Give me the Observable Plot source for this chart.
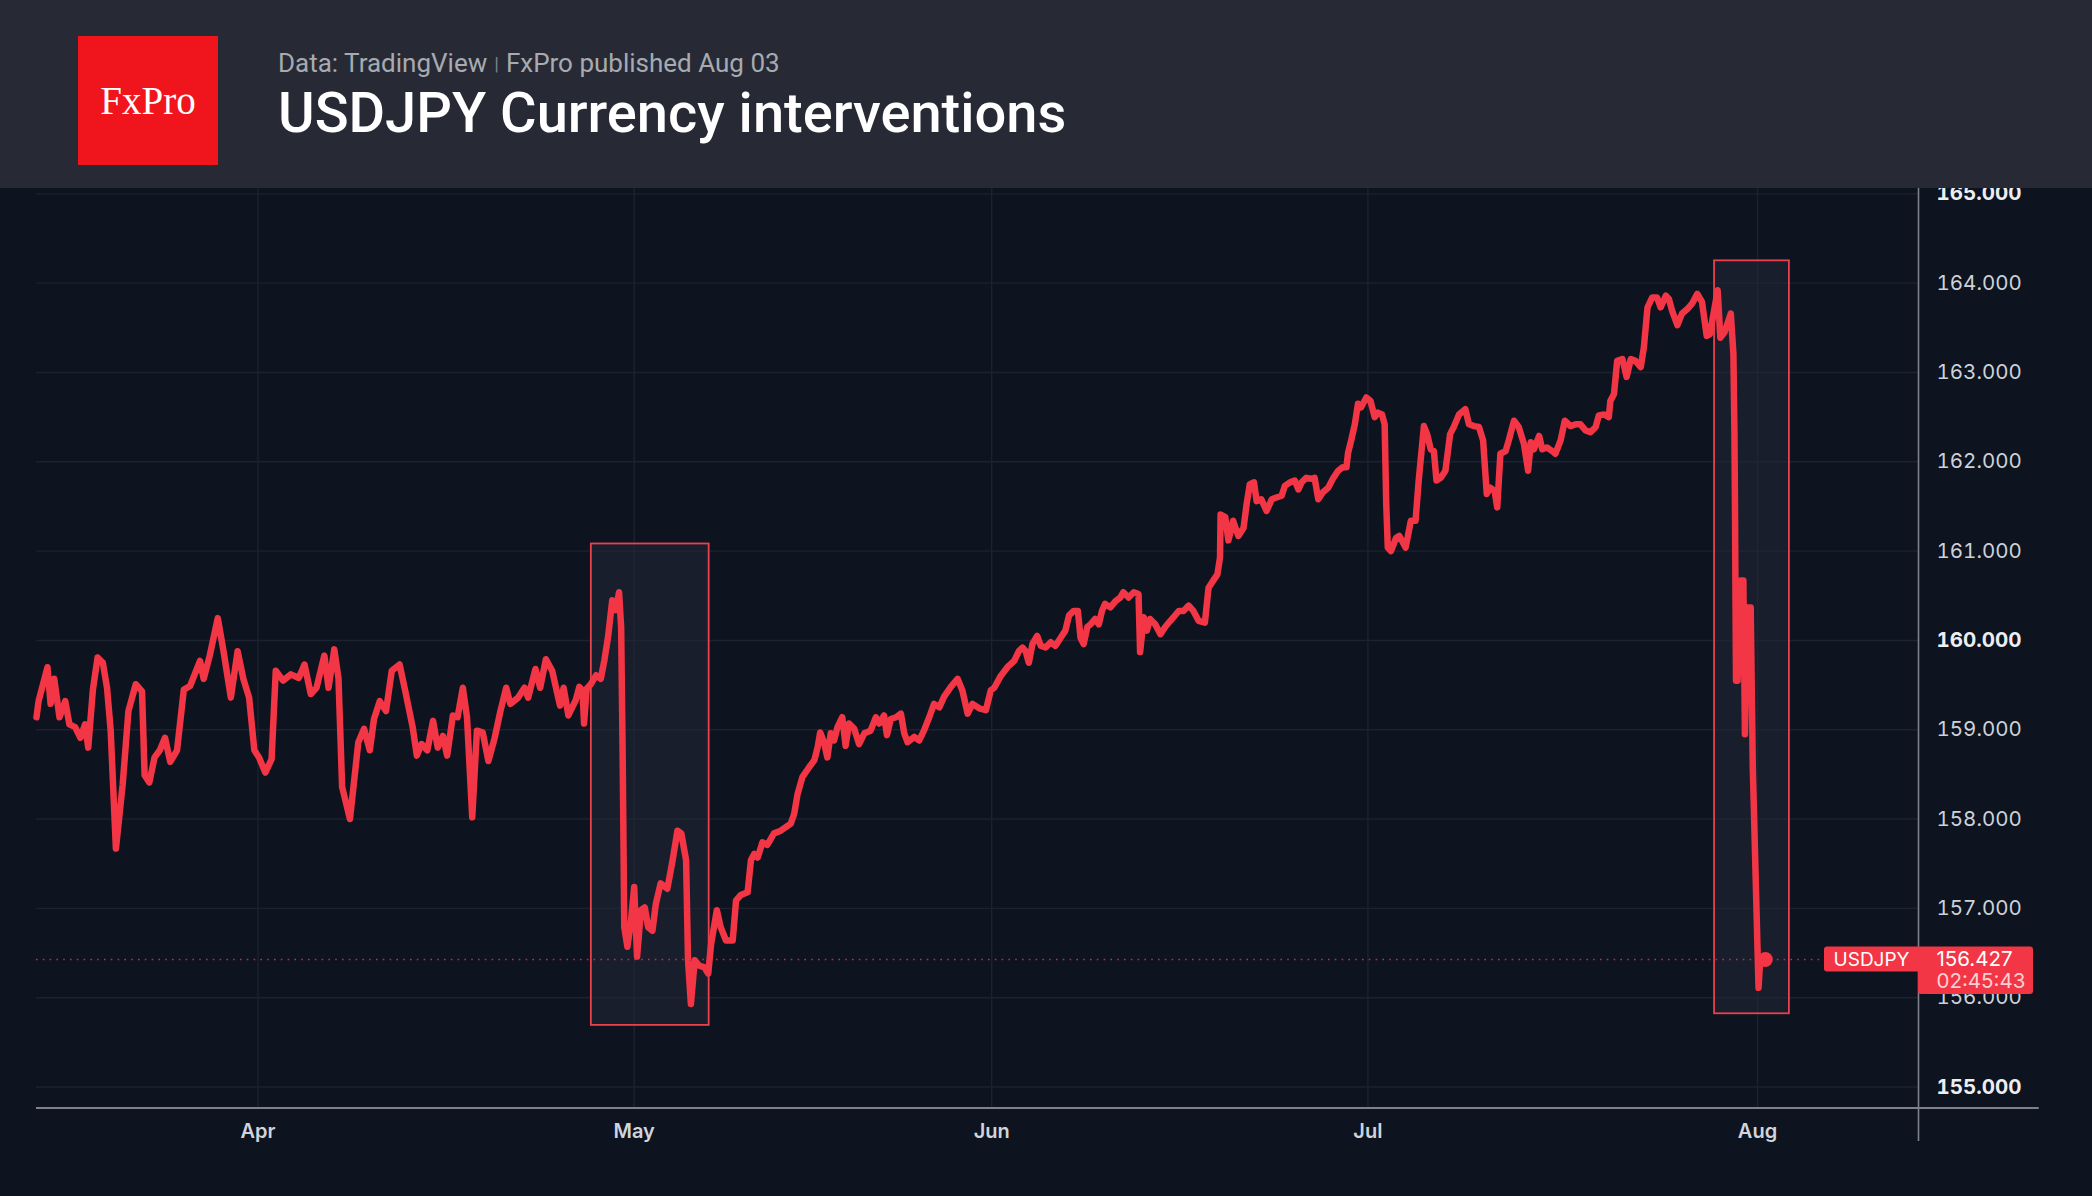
<!DOCTYPE html>
<html>
<head>
<meta charset="utf-8">
<script src="https://cdn.jsdelivr.net/npm/d3@7"></script>
<script src="https://cdn.jsdelivr.net/npm/@observablehq/plot@0.6"></script>
<style>
  html, body { margin: 0; padding: 0; background: #0d131f; width: 2092px; height: 1196px; overflow: hidden; }
  #header { position: absolute; left: 0; top: 0; width: 2092px; height: 188px; background: #272a34; z-index: 2; }
  #logo { position: absolute; left: 78px; top: 36px; width: 140px; height: 129px; background: #f0151d;
          display: flex; align-items: center; justify-content: center; color: #fff;
          font-family: "Liberation Serif", "DejaVu Serif", serif; font-size: 39px; }
  #sub { position: absolute; left: 278px; top: 50px; font-family: Roboto, sans-serif; font-size: 26px; line-height: 1;
         color: #a7aab1; white-space: nowrap; }
  #sub .sep { color: #7d818a; font-size: 19px; position: relative; top: -2px; margin: 0 7px; }
  #title { position: absolute; left: 278px; top: 85px; font-family: Roboto, sans-serif; font-weight: 500; font-size: 56px;
           line-height: 1; color: #ffffff; white-space: nowrap; }
  #chart { position: absolute; left: 0; top: 188px; }
</style>
</head>
<body>
<div id="header">
  <div id="logo">FxPro</div>
  <div id="sub">Data: TradingView<span class="sep">|</span>FxPro published Aug 03</div>
  <div id="title">USDJPY Currency interventions</div>
</div>
<div id="chart"></div>
<script>
// ---- data (USDJPY, 2024) ----
const times = [
"03-14 08","03-14 12","03-15 05","03-15 11","03-15 18","03-16 04","03-16 15","03-16 23","03-17 10","03-17 20",
"03-18 05","03-18 11","03-18 20","03-19 05","03-19 15","03-19 23","03-20 06","03-20 16","03-21 05","03-21 16",
"03-22 06","03-22 18","03-22 23","03-23 08","03-23 18","03-24 04","03-24 14","03-25 00","03-25 13","03-26 02",
"03-26 14","03-27 09","03-27 16","03-28 04","03-28 19","03-29 06","03-29 20","03-30 09","03-30 20","03-31 07",
"03-31 17","04-01 02","04-01 14","04-02 02","04-02 10","04-03 00","04-03 15","04-04 06","04-04 17","04-05 05",
"04-05 16","04-06 07","04-06 15","04-07 02","04-07 10","04-07 17","04-08 08","04-09 00","04-09 11","04-09 22",
"04-10 06","04-10 17","04-11 05","04-11 16","04-12 07","04-12 18","04-13 08","04-13 16","04-14 01","04-14 12",
"04-14 23","04-15 08","04-15 18","04-16 02","04-16 13","04-16 22","04-17 08","04-17 16","04-18 02","04-18 11",
"04-18 22","04-19 09","04-19 21","04-20 08","04-20 19","04-21 03","04-21 18","04-22 06","04-22 13","04-23 03",
"04-23 12","04-23 23","04-24 11","04-25 02","04-25 09","04-25 18",
"04-26 08","04-26 15","04-26 21","04-27 00","04-27 05","04-27 13","04-27 23","04-28 08","04-28 15","04-28 22",
"04-29 06","04-29 13","04-29 19","04-29 23","04-30 02","04-30 05","04-30 11","04-30 18","05-01 00","05-01 06",
"05-01 14","05-01 22","05-02 05","05-02 14","05-02 21","05-03 07","05-03 21","05-04 08","05-04 18","05-05 02",
"05-05 12","05-05 16","05-05 22","05-06 06","05-06 15","05-07 02","05-07 10","05-07 16","05-08 04","05-08 12",
"05-08 23","05-09 13","05-09 20","05-10 06","05-10 20","05-11 03","05-11 10","05-11 17","05-12 03","05-12 13",
"05-13 03","05-13 17","05-14 14","05-14 21","05-15 04","05-15 14","05-16 04","05-16 15","05-16 22","05-17 03",
"05-17 11","05-17 18","05-18 01","05-18 08","05-18 15","05-19 01","05-19 08","05-19 15","05-20 02","05-20 12",
"05-20 23","05-21 12","05-21 23","05-22 06","05-22 16","05-22 22","05-23 06","05-23 17","05-24 03","05-24 10",
"05-24 17","05-25 07","05-25 17","05-26 03","05-26 14","05-27 00","05-27 11","05-27 21","05-28 11","05-29 01",
"05-29 11","05-29 22","05-30 08","05-30 22","05-31 12","05-31 22",
"06-01 05","06-01 17","06-02 06","06-02 19","06-03 04","06-03 11","06-03 17","06-03 23","06-04 06","06-04 15",
"06-04 22","06-05 07","06-05 17","06-06 02","06-06 12","06-06 21","06-07 04","06-07 13","06-07 21","06-08 02",
"06-08 08","06-08 15","06-08 21","06-09 06","06-09 13","06-09 19","06-10 01","06-10 11","06-10 21","06-11 06",
"06-11 12","06-11 22","06-12 08","06-12 17","06-12 20","06-13 03","06-13 09","06-13 15","06-14 01","06-14 11",
"06-14 20","06-15 06","06-15 12","06-15 22","06-16 07","06-16 17","06-17 02","06-17 12","06-18 00","06-18 07",
"06-18 16","06-19 00","06-19 05","06-19 06","06-19 15","06-19 21","06-20 06","06-20 16","06-21 02","06-21 08",
"06-21 14","06-21 22","06-22 03","06-22 12","06-22 22","06-23 08","06-23 17","06-24 03","06-24 09","06-24 19",
"06-25 04","06-25 11","06-25 17","06-26 02","06-26 12","06-26 18","06-27 01","06-27 10","06-27 20","06-28 05",
"06-28 15","06-29 00","06-29 07","06-29 10","06-29 16","06-29 23","06-30 05","06-30 11","06-30 21",
"07-01 05","07-01 13","07-01 19","07-02 03","07-02 08","07-02 11","07-02 14","07-02 20","07-03 06","07-03 12",
"07-04 00","07-04 10","07-04 19","07-05 01","07-05 11","07-05 17","07-06 00","07-06 06","07-06 11","07-06 19",
"07-07 04","07-07 13","07-07 20","07-08 06","07-08 18","07-09 01","07-09 11","07-09 20","07-10 04","07-10 11",
"07-10 18","07-11 02","07-11 07","07-11 13","07-11 23","07-12 05","07-12 15","07-13 00","07-13 10","07-13 18",
"07-13 23","07-14 05","07-14 15","07-14 21","07-15 06","07-15 16","07-15 22","07-16 08","07-16 16","07-17 03",
"07-17 13","07-17 22","07-18 08","07-18 17","07-19 03","07-19 09","07-19 19","07-20 04","07-20 07","07-20 14",
"07-20 20","07-21 06","07-21 14","07-21 22","07-22 07","07-22 17","07-22 23","07-23 06","07-23 15","07-24 00",
"07-24 07","07-24 17","07-24 23","07-25 05","07-25 15","07-26 00","07-26 10","07-26 19","07-27 05","07-27 14",
"07-27 23","07-28 05","07-28 13","07-28 20","07-29 01","07-29 09","07-29 21","07-30 02","07-30 04","07-30 05",
"07-30 06","07-30 07","07-30 10","07-30 16","07-30 21","07-31 00","07-31 04","07-31 11","07-31 15","08-01 02",
"08-01 05","08-01 15"
];
const prices = [
159.14,159.32,159.70,159.29,159.57,159.14,159.32,159.06,159.03,158.91,
159.06,158.80,159.45,159.81,159.75,159.47,158.99,157.67,158.39,159.21,
159.51,159.43,158.49,158.41,158.69,158.77,158.91,158.64,158.77,159.45,
159.49,159.77,159.57,159.84,160.25,159.88,159.36,159.88,159.57,159.36,
158.77,158.69,158.52,158.67,159.66,159.55,159.62,159.58,159.73,159.40,
159.47,159.83,159.47,159.90,159.58,158.36,158.00,158.86,159.01,158.77,
159.12,159.32,159.21,159.66,159.73,159.43,159.03,158.71,158.84,158.77,
159.10,158.80,158.93,158.71,159.16,159.14,159.47,159.14,158.02,158.99,
158.97,158.65,158.91,159.21,159.47,159.29,159.36,159.47,159.36,159.68,
159.47,159.79,159.66,159.27,159.47,159.16,
159.33,159.48,159.44,159.07,159.46,159.51,159.61,159.57,159.78,160.04,
160.45,160.34,160.54,160.15,158.66,156.79,156.57,156.87,157.24,156.46,
156.98,157.01,156.79,156.75,157.05,157.28,157.22,157.54,157.87,157.84,
157.54,156.42,155.93,156.42,156.36,156.34,156.27,156.60,156.98,156.79,
156.64,156.64,157.09,157.15,157.18,157.54,157.61,157.57,157.74,157.71,
157.84,157.87,157.95,158.06,158.28,158.47,158.58,158.66,158.81,158.97,
158.86,158.69,158.96,158.88,159.03,159.14,158.82,159.07,159.01,158.84,
158.96,158.99,159.14,159.07,159.16,158.94,159.12,159.14,159.18,158.96,
158.86,158.92,158.88,158.99,159.14,159.29,159.25,159.37,159.48,159.57,
159.44,159.18,159.29,159.24,159.22,159.44,
159.47,159.60,159.70,159.77,159.88,159.92,159.88,159.75,159.96,160.05,
159.94,159.92,159.98,159.94,160.03,160.11,160.28,160.33,160.33,160.03,
159.96,160.15,160.18,160.24,160.18,160.33,160.41,160.37,160.44,160.48,
160.54,160.48,160.54,160.52,159.87,160.26,160.11,160.24,160.18,160.07,
160.15,160.22,160.26,160.33,160.33,160.39,160.33,160.22,160.20,160.59,
160.67,160.74,160.93,161.41,161.38,161.12,161.34,161.17,161.26,161.53,
161.75,161.77,161.56,161.58,161.45,161.58,161.60,161.62,161.73,161.77,
161.79,161.69,161.77,161.82,161.81,161.82,161.58,161.66,161.71,161.81,
161.90,161.94,161.94,162.10,162.24,162.42,162.65,162.61,162.72,
162.68,162.50,162.55,162.53,162.42,161.53,161.04,161.00,161.15,161.17,
161.04,161.34,161.34,161.79,162.40,162.31,162.14,162.12,161.79,161.82,
161.90,162.31,162.39,162.53,162.59,162.42,162.40,162.39,162.24,161.64,
161.71,161.67,161.49,162.09,162.12,162.24,162.46,162.39,162.20,161.90,
162.22,162.14,162.29,162.14,162.16,162.12,162.09,162.24,162.46,162.40,
162.42,162.42,162.35,162.33,162.39,162.52,162.53,162.50,162.68,162.76,
163.13,163.15,162.95,163.15,163.13,163.06,163.28,163.73,163.84,163.84,
163.73,163.86,163.82,163.69,163.53,163.66,163.71,163.77,163.88,163.79,
163.41,163.43,163.69,163.92,163.39,163.45,163.66,163.21,162.30,161.50,
160.45,159.55,159.55,160.67,160.67,158.95,160.37,160.37,158.58,156.11,
156.41,156.427
];

// highlighted intervention windows
const boxStart = ["04-27 14", "07-28 14"];
const boxEnd   = ["05-07 12", "08-03 13"];
const boxLow   = [155.69, 155.82];
const boxHigh  = [161.08, 164.25];

// axes
const monthTicks  = ["04-01 00", "05-01 00", "06-01 00", "07-01 00", "08-01 00"];
const yTicksPlain = [156, 157, 158, 159, 161, 162, 163, 164];
const yTicksBold  = [155, 160, 165];
const symbol = "USDJPY";
const countdown = "02:45:43";

// ---- build ----
const parse = d3.utcParse("%Y-%m-%d %H");
const dt = s => parse("2024-" + s);
const data = times.map((t, i) => ({date: dt(t), price: prices[i]}));
const boxes = boxStart.map((s, i) => ({x1: dt(s), x2: dt(boxEnd[i]), y1: boxLow[i], y2: boxHigh[i]}));
const last = data[data.length - 1];
const monthDates = monthTicks.map(dt);

// chart time axis (TradingView-style, piecewise by month)
const xDomain = ["03-14 08", "04-01 00", "05-01 00", "06-01 00", "07-01 00", "08-01 00", "08-13 20"].map(dt);
const xRange  = [36, 257.5, 633.7, 991.2, 1367.4, 1757, 1918];
const xStart = xDomain[0], xEnd = xDomain[xDomain.length - 1];
const xAxisEnd = dt("08-23 11");
const yMin = 154.765, yMax = 165.06;

const red = "#f23645";
const lineColor = "#7c818b";

const chart = Plot.plot({
  width: 2092,
  height: 1008,
  marginLeft: 36,
  marginRight: 174,
  marginTop: 0,
  marginBottom: 88.5,
  style: {background: "transparent", overflow: "hidden", fontFamily: "Inter, Roboto, sans-serif", color: "#d1d4dc"},
  x: {type: "utc", domain: xDomain, range: xRange},
  y: {domain: [yMin, yMax]},
  marks: [
    Plot.gridY(yTicksPlain.concat(yTicksBold), {stroke: "#1c2230", strokeOpacity: 1, strokeWidth: 1.4}),
    Plot.gridX(monthDates, {stroke: "#1c2230", strokeOpacity: 1, strokeWidth: 1.4}),
    Plot.rect(boxes, {x1: "x1", x2: "x2", y1: "y1", y2: "y2", fill: "#222836", fillOpacity: 0.55, stroke: "#e8414f", strokeWidth: 1.8}),
    Plot.ruleY([last.price], {stroke: red, strokeOpacity: 0.8, strokeWidth: 1.6, strokeDasharray: "1.6,5.2"}),
    Plot.line(data, {x: "date", y: "price", stroke: red, strokeWidth: 6.5, strokeLinejoin: "round", strokeLinecap: "round"}),
    Plot.dot([last], {x: "date", y: "price", r: 7.5, fill: red}),
    Plot.ruleY([yMin], {x1: () => xStart, x2: () => xAxisEnd, stroke: lineColor, strokeWidth: 2}),
    Plot.ruleX([xEnd], {y1: () => yMax, y2: () => 154.39, stroke: lineColor, strokeWidth: 1.6}),
    Plot.axisY({anchor: "right", ticks: yTicksPlain, tickFormat: d => d.toFixed(3), tickSize: 0, tickPadding: 18,
                fontSize: 20.5, color: "#ced1d8", label: null}),
    Plot.axisY({anchor: "right", ticks: yTicksBold, tickFormat: d => d.toFixed(3), tickSize: 0, tickPadding: 18,
                fontSize: 20.5, fontWeight: 700, color: "#eceef2", label: null}),
    Plot.axisX({ticks: monthDates, tickFormat: d3.utcFormat("%b"), tickSize: 0, tickPadding: 16,
                fontSize: 20, fontWeight: 600, color: "#d1d4dc", label: null}),
    // last-price labels on the price scale
    Plot.rect([last], {x1: () => xEnd, x2: () => xEnd, y1: "price", y2: "price",
                       insetLeft: -94, insetRight: -4, insetTop: -12.5, insetBottom: -12.5, fill: red, rx: 3}),
    Plot.rect([last], {x1: () => xEnd, x2: () => xEnd, y1: "price", y2: "price",
                       insetLeft: 0, insetRight: -115, insetTop: -12.5, insetBottom: -35, fill: red, rx: 3}),
    Plot.text([last], {x: () => xEnd, y: "price", text: () => symbol, dx: -47, textAnchor: "middle",
                       fill: "#ffffff", fontSize: 19}),
    Plot.text([last], {x: () => xEnd, y: "price", text: d => d.price.toFixed(3), dx: 18, textAnchor: "start",
                       fill: "#ffffff", fontSize: 20.5}),
    Plot.text([last], {x: () => xEnd, y: "price", text: () => countdown, dx: 18, dy: 22, textAnchor: "start",
                       fill: "#fbd0d4", fontSize: 20.5})
  ]
});
document.getElementById("chart").appendChild(chart);
</script>
</body>
</html>
